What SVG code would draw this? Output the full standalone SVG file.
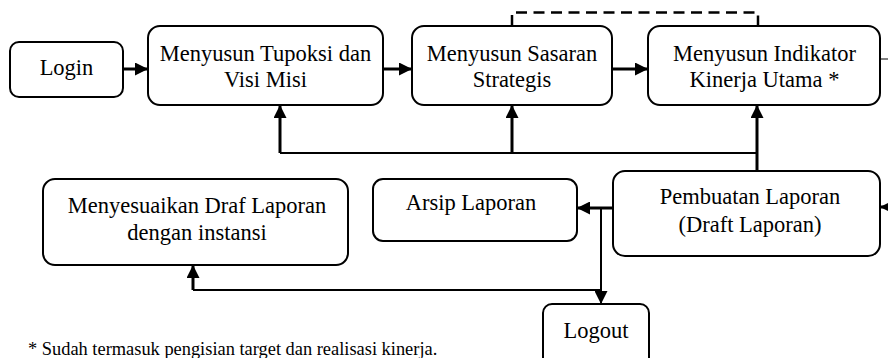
<svg xmlns="http://www.w3.org/2000/svg" width="888" height="358" viewBox="0 0 888 358">
  <style>
    .box { fill: #ffffff; stroke: #000000; stroke-width: 2; }
    .lbl { font-family: 'Liberation Serif', 'Times New Roman', serif; font-size: 22.5px; fill: #000000; text-anchor: middle; }
    .note { font-family: 'Liberation Serif', 'Times New Roman', serif; font-size: 18.4px; fill: #000000; }
    .c { fill: none; stroke: #000000; }
    .thick { stroke-width: 3; }
    .mid { stroke-width: 2; }
    .thin { stroke-width: 1; }
    .dash { stroke-width: 2.5; stroke-dasharray: 11 6.5; }
  </style>
  <defs>
    <marker id="arr" viewBox="0 0 12 12" refX="12" refY="6" markerWidth="13" markerHeight="13" markerUnits="userSpaceOnUse" orient="auto">
      <path d="M0,0 L12,6 L0,12 z" fill="#000000"/>
    </marker>
  </defs>
  <rect width="888" height="358" fill="#ffffff"/>

  <g id="connectors">
    <path class="c thick" d="M123,69 H148" marker-end="url(#arr)"/>
    <path class="c thick" d="M383,69 H412" marker-end="url(#arr)"/>
    <path class="c thick" d="M612,69 H648" marker-end="url(#arr)"/>
    <path class="c dash" d="M512,26 V12.5 H758 V26"/>
    <path class="c thin" d="M880,59 H888"/>
    <path class="c mid" d="M280,153 H757"/>
    <path class="c thick" d="M280,153 V105" marker-end="url(#arr)"/>
    <path class="c thick" d="M512,153 V105" marker-end="url(#arr)"/>
    <path class="c thick" d="M757,171 V105" marker-end="url(#arr)"/>
    <path class="c thick" d="M895,207 H880" marker-end="url(#arr)"/>
    <path class="c thick" d="M613,208 H577" marker-end="url(#arr)"/>
    <path class="c mid" d="M601,208 V304" marker-end="url(#arr)"/>
    <path class="c mid" d="M601,290 H193"/>
    <path class="c thick" d="M193,290 V265" marker-end="url(#arr)"/>
  </g>

  <g id="login">
    <rect class="box" x="10" y="42" width="113" height="55" rx="9"/>
    <text class="lbl" x="66.5" y="75">Login</text>
  </g>
  <g id="tupoksi">
    <rect class="box" x="148" y="26" width="235" height="79" rx="12"/>
    <text class="lbl" x="265.5" y="61">Menyusun Tupoksi dan</text>
    <text class="lbl" x="265.5" y="87">Visi Misi</text>
  </g>
  <g id="sasaran">
    <rect class="box" x="412" y="26" width="200" height="79" rx="12"/>
    <text class="lbl" x="512" y="61">Menyusun Sasaran</text>
    <text class="lbl" x="512" y="87">Strategis</text>
  </g>
  <g id="indikator">
    <rect class="box" x="648" y="26" width="232" height="79" rx="12"/>
    <text class="lbl" x="764.5" y="61">Menyusun Indikator</text>
    <text class="lbl" x="764.5" y="87">Kinerja Utama *</text>
  </g>
  <g id="pembuatan">
    <rect class="box" x="613" y="171" width="267" height="85" rx="12"/>
    <text class="lbl" x="750" y="204">Pembuatan Laporan</text>
    <text class="lbl" x="750" y="232">(Draft Laporan)</text>
  </g>
  <g id="arsip">
    <rect class="box" x="373" y="179" width="204" height="62" rx="10"/>
    <text class="lbl" x="471" y="210">Arsip Laporan</text>
  </g>
  <g id="menyesuaikan">
    <rect class="box" x="43" y="179" width="305" height="86" rx="12"/>
    <text class="lbl" x="197" y="213">Menyesuaikan Draf Laporan</text>
    <text class="lbl" x="197" y="240">dengan instansi</text>
  </g>
  <g id="logout">
    <rect class="box" x="543" y="304" width="106" height="66" rx="9"/>
    <text class="lbl" x="596" y="338">Logout</text>
  </g>
  <g id="footnote">
    <text class="note" x="28" y="355">* Sudah termasuk pengisian target dan realisasi kinerja.</text>
  </g>
</svg>
